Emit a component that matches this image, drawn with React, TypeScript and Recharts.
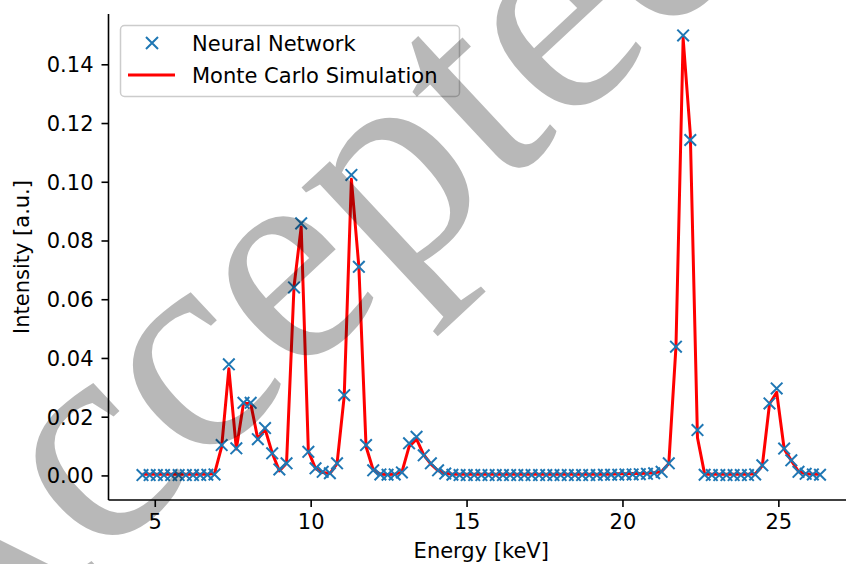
import React from 'react';
import { ComposedChart, Line, XAxis, YAxis } from 'recharts';

// ---- data ----
const energies = [
  4.59, 4.82, 5.05, 5.28, 5.51, 5.75, 5.98, 6.21, 6.44, 6.67,
  6.90, 7.13, 7.36, 7.60, 7.83, 8.06, 8.29, 8.52, 8.75, 8.98,
  9.21, 9.45, 9.68, 9.91, 10.14, 10.37, 10.60, 10.83, 11.06, 11.29,
  11.53, 11.76, 11.99, 12.22, 12.45, 12.68, 12.91, 13.14, 13.38, 13.61,
  13.84, 14.07, 14.30, 14.53, 14.76, 14.99, 15.23, 15.46, 15.69, 15.92,
  16.15, 16.38, 16.61, 16.84, 17.07, 17.31, 17.54, 17.77, 18.00, 18.23,
  18.46, 18.69, 18.92, 19.16, 19.39, 19.62, 19.85, 20.08, 20.31, 20.54,
  20.77, 21.00, 21.24, 21.47, 21.70, 21.93, 22.16, 22.39, 22.62, 22.85,
  23.09, 23.32, 23.55, 23.78, 24.01, 24.24, 24.47, 24.70, 24.93, 25.17,
  25.40, 25.63, 25.86, 26.09, 26.32,
];

const neuralNetwork = [
  0.0003, 0.0003, 0.0003, 0.0003, 0.0003, 0.0003, 0.0003, 0.0003, 0.0003, 0.0004,
  0.0005, 0.0105, 0.0380, 0.0094, 0.0249, 0.0249, 0.0125, 0.0163, 0.0077, 0.0022,
  0.0043, 0.0642, 0.0860, 0.0082, 0.0026, 0.0014, 0.0009, 0.0043, 0.0275, 0.1025,
  0.0712, 0.0105, 0.0019, 0.0005, 0.0004, 0.0005, 0.0012, 0.0111, 0.0133, 0.0070,
  0.0043, 0.0019, 0.0008, 0.0004, 0.0003, 0.0003, 0.0003, 0.0003, 0.0003, 0.0003,
  0.0003, 0.0003, 0.0003, 0.0003, 0.0003, 0.0003, 0.0003, 0.0003, 0.0003, 0.0003,
  0.0003, 0.0003, 0.0003, 0.0003, 0.0004, 0.0004, 0.0004, 0.0005, 0.0005, 0.0006,
  0.0007, 0.0009, 0.0014, 0.0043, 0.0440, 0.1500, 0.1144, 0.0156, 0.0004, 0.0003,
  0.0003, 0.0003, 0.0003, 0.0003, 0.0003, 0.0005, 0.0036, 0.0247, 0.0298, 0.0093,
  0.0053, 0.0014, 0.0007, 0.0005, 0.0004,
];

const monteCarlo = [
  0.0006, 0.0006, 0.0006, 0.0006, 0.0006, 0.0006, 0.0006, 0.0006, 0.0006, 0.0006,
  0.0008, 0.0100, 0.0365, 0.0092, 0.0247, 0.0247, 0.0125, 0.0160, 0.0078, 0.0017,
  0.0043, 0.0645, 0.0848, 0.0085, 0.0025, 0.0012, 0.0008, 0.0042, 0.0272, 0.1010,
  0.0712, 0.0100, 0.0020, 0.0006, 0.0005, 0.0006, 0.0013, 0.0100, 0.0125, 0.0072,
  0.0040, 0.0018, 0.0009, 0.0006, 0.0006, 0.0006, 0.0006, 0.0006, 0.0006, 0.0006,
  0.0006, 0.0006, 0.0006, 0.0006, 0.0006, 0.0006, 0.0006, 0.0006, 0.0006, 0.0006,
  0.0006, 0.0006, 0.0006, 0.0006, 0.0006, 0.0006, 0.0007, 0.0007, 0.0008, 0.0008,
  0.0009, 0.0011, 0.0015, 0.0042, 0.0440, 0.1490, 0.1165, 0.0130, 0.0006, 0.0006,
  0.0006, 0.0006, 0.0006, 0.0006, 0.0006, 0.0007, 0.0035, 0.0245, 0.0285, 0.0092,
  0.0052, 0.0015, 0.0007, 0.0006, 0.0006,
];

const xTicks = [5, 10, 15, 20, 25];
const yTicks = [0, 0.02, 0.04, 0.06, 0.08, 0.1, 0.12, 0.14];
const seriesNames = ['Neural Network', 'Monte Carlo Simulation'];
const xTitle = 'Energy [keV]';
const yTitle = 'Intensity [a.u.]';
const watermark = 'Accepted';

const rows = energies.map((e, i) => ({ energy: e, nn: neuralNetwork[i], mc: monteCarlo[i] }));

// ---- style ----
const FONT = '"DejaVu Sans", Verdana, sans-serif';
const BLUE = '#1f77b4';
const RED = '#ff0000';
const CHART_W = 870;
const CHART_H = 564;
const Y_AXIS_W = 108.5;
const X_AXIS_H = 64;
const M_TOP = 14;
const M_RIGHT = 16;
const PLOT_L = Y_AXIS_W;
const PLOT_R = CHART_W - M_RIGHT;
const PLOT_T = M_TOP;
const PLOT_B = CHART_H - X_AXIS_H;

const CrossDot = (props: any) => {
  const { cx, cy, index } = props;
  if (cx == null || cy == null || isNaN(cx) || isNaN(cy)) return <g key={`d-${index}`} />;
  const r = 5.8;
  return (
    <path
      key={`d-${index}`}
      d={`M${cx - r},${cy - r}L${cx + r},${cy + r}M${cx - r},${cy + r}L${cx + r},${cy - r}`}
      stroke={BLUE}
      strokeWidth={2}
      fill="none"
    />
  );
};

const tickStyle = { fill: '#000', fontSize: 21, fontFamily: FONT };

export default function App() {
  return (
    <div
      style={{
        position: 'absolute',
        left: 0,
        top: 0,
        width: 846,
        height: 564,
        overflow: 'hidden',
        background: '#fff',
      }}
    >
      <ComposedChart
        width={CHART_W}
        height={CHART_H}
        data={rows}
        margin={{ top: M_TOP, right: M_RIGHT, bottom: 0, left: 0 }}
      >
        <XAxis
          dataKey="energy"
          type="number"
          domain={[3.5, 27.41]}
          allowDataOverflow
          ticks={xTicks}
          interval={0}
          height={X_AXIS_H}
          tickSize={7}
          tickMargin={7}
          axisLine={{ stroke: '#000', strokeWidth: 1.6 }}
          tickLine={{ stroke: '#000', strokeWidth: 1.6 }}
          tick={tickStyle}
        />
        <XAxis
          xAxisId="top"
          orientation="top"
          dataKey="energy"
          type="number"
          domain={[3.5, 27.41]}
          allowDataOverflow
          height={0}
          tick={false}
          tickLine={false}
          axisLine={{ stroke: '#000', strokeWidth: 1.6 }}
        />
        <YAxis
          type="number"
          domain={[-0.0082, 0.1573]}
          allowDataOverflow
          ticks={yTicks}
          interval={0}
          width={Y_AXIS_W}
          tickSize={7}
          tickMargin={8}
          tickFormatter={(v: number) => v.toFixed(2)}
          axisLine={{ stroke: '#000', strokeWidth: 1.6 }}
          tickLine={{ stroke: '#000', strokeWidth: 1.6 }}
          tick={tickStyle}
        />
        <Line
          dataKey="nn"
          name={seriesNames[0]}
          type="linear"
          stroke="none"
          dot={CrossDot}
          activeDot={false}
          isAnimationActive={false}
        />
        <Line
          dataKey="mc"
          name={seriesNames[1]}
          type="linear"
          stroke={RED}
          strokeWidth={3}
          dot={false}
          activeDot={false}
          strokeLinejoin="round"
          isAnimationActive={false}
        />
      </ComposedChart>

      <svg
        width={846}
        height={564}
        style={{ position: 'absolute', left: 0, top: 0, pointerEvents: 'none' }}
      >
        {/* axis titles */}
        <text
          x={(PLOT_L + PLOT_R) / 2}
          y={558}
          textAnchor="middle"
          fontFamily={FONT}
          fontSize={21}
          fill="#000"
        >
          {xTitle}
        </text>
        <text
          x={29}
          y={(PLOT_T + PLOT_B) / 2}
          textAnchor="middle"
          fontFamily={FONT}
          fontSize={21}
          fill="#000"
          transform={`rotate(-90 29 ${(PLOT_T + PLOT_B) / 2})`}
        >
          {yTitle}
        </text>

        {/* legend */}
        <rect x={120.5} y={25.5} width={339} height={71} rx={4} ry={4} fill="#fff" fillOpacity={0.8} stroke="#cccccc" strokeWidth={1.5} />
        <path d="M146,37L158,49M146,49L158,37" stroke={BLUE} strokeWidth={2} fill="none" />
        <text x={192} y={50.5} fontFamily={FONT} fontSize={21} fill="#000">{seriesNames[0]}</text>
        <line x1={128} y1={75} x2={175} y2={75} stroke={RED} strokeWidth={3} />
        <text x={192} y={82.5} fontFamily={FONT} fontSize={21} fill="#000">{seriesNames[1]}</text>

        {/* watermark */}
        <text
          x={0}
          y={0}
          transform="translate(-60 713) rotate(-43)"
          fontFamily='"Liberation Serif", "Times New Roman", serif'
          fontSize={300}
          fill="#000"
          fillOpacity={0.28}
        >
          {watermark}
        </text>
      </svg>
    </div>
  );
}
